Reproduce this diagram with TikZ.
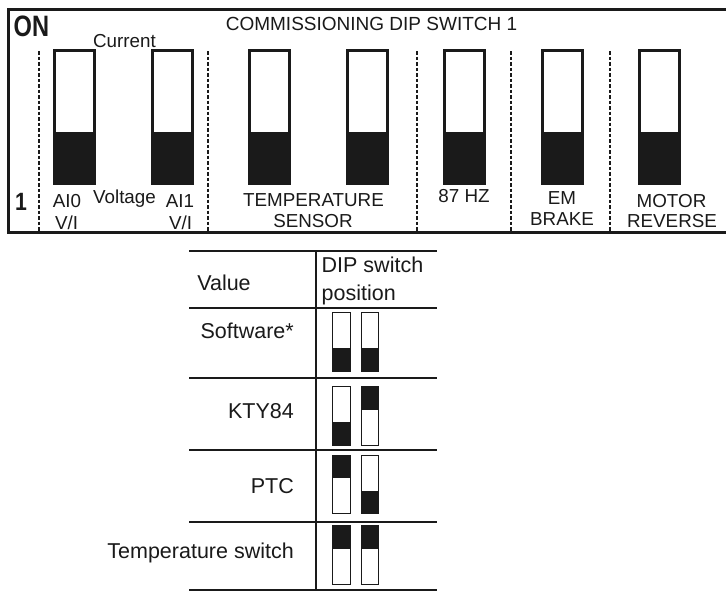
\documentclass[tikz,border=0pt]{standalone}
\usepackage{fontspec}
\setmainfont{Liberation Sans}
\usepackage{graphicx}
\definecolor{ink}{HTML}{1A1A1A}
\begin{document}
\begin{tikzpicture}[x=1pt,y=-1pt,
  lbl/.style={inner sep=0pt, font=\fontsize{18.8}{22}\selectfont, text=ink},
  tlbl/.style={inner sep=0pt, font=\fontsize{21.5}{28}\selectfont, text=ink},
  bigsw/.style={draw=ink, line width=3pt, minimum width=40pt, minimum height=133pt, inner sep=0pt,
    path picture={\fill[ink] ([yshift=51.5pt]path picture bounding box.south west) rectangle (path picture bounding box.south east);}},
  smsw/.style={draw=ink, line width=1.3pt, minimum width=17.5pt, minimum height=58.5pt, inner sep=0pt},
  smlo/.style={smsw, path picture={\fill[ink] ([yshift=23pt]path picture bounding box.south west) rectangle (path picture bounding box.south east);}},
  smhi/.style={smsw, path picture={\fill[ink] (path picture bounding box.north west) rectangle ([yshift=-23pt]path picture bounding box.north east);}},
  sep/.style={draw=ink, line width=1.8pt, dash pattern=on 3.5pt off 2pt},
  frame/.style={draw=ink, line width=3pt},
  tline/.style={draw=ink, line width=1.8pt}
]
\useasboundingbox (0,0) rectangle (726,592);
\fill[white] (0,0) rectangle (726,592);

% outer frame of the DIP switch block
\draw[frame] (735,9.5) -- (8.5,9.5) -- (8.5,232.5) -- (735,232.5);

% dashed separators
\foreach \xx in {39,208,417,511,610}
  \draw[sep] (\xx,51) -- (\xx,231);

% big switches
\node[bigsw] (s1) at (74.5,117) {};
\node[bigsw] (s2) at (172,117) {};
\node[bigsw] (s3) at (269.5,117) {};
\node[bigsw] (s4) at (367,117) {};
\node[bigsw] (s5) at (464.5,117) {};
\node[bigsw] (s6) at (562,117) {};
\node[bigsw] (s7) at (659,117) {};

% headings
\node[inner sep=0pt, anchor=base west, text=ink, font=\bfseries\fontsize{29.5}{30}\selectfont] (on) at (13.5,36) {\scalebox{0.8}[1]{ON}};
\node[inner sep=0pt, anchor=base, text=ink, font=\bfseries\fontsize{25}{26}\selectfont] (one) at (21,210) {\scalebox{0.85}[1]{1}};
\node[lbl, font=\fontsize{19}{22}\selectfont, anchor=base] (title) at (371.5,30) {COMMISSIONING DIP SWITCH 1};

% labels
\node[lbl, anchor=base] (cur) at (124.5,47) {Current};
\node[lbl, anchor=base] (volt) at (124.5,203) {Voltage};
\node[lbl, anchor=base] (ai0) at (67,207) {AI0};
\node[lbl, anchor=base] (vi0) at (66.5,229) {V/I};
\node[lbl, anchor=base] (ai1) at (180,207) {AI1};
\node[lbl, anchor=base] (vi1) at (180.5,229) {V/I};
\node[lbl, anchor=base] (temp) at (313.5,206) {TEMPERATURE};
\node[lbl, anchor=base] (sens) at (313,227) {SENSOR};
\node[lbl, anchor=base] (hz) at (464,202) {87 HZ};
\node[lbl, anchor=base] (em) at (562,204) {EM};
\node[lbl, anchor=base] (brake) at (562,225) {BRAKE};
\node[lbl, anchor=base] (motor) at (671.5,207) {MOTOR};
\node[lbl, anchor=base] (rev) at (672,227) {REVERSE};

% table rules
\foreach \yy in {251,308,378,450,522,590}
  \draw[tline] (189,\yy) -- (437,\yy);
\draw[tline] (316,251) -- (316,590);

% table texts
\node[tlbl, anchor=base] (val) at (224,290) {Value};
\node[tlbl, anchor=base west] (dip1) at (321.5,272) {DIP switch};
\node[tlbl, anchor=base west] (dip2) at (321.5,300) {position};
\node[tlbl, anchor=base east] (soft) at (294,338) {Software*};
\node[tlbl, anchor=base east] (kty) at (294,418) {KTY84};
\node[tlbl, anchor=base east] (ptc) at (294,493) {PTC};
\node[tlbl, anchor=base east] (tsw) at (294,558) {Temperature switch};

% small switches
\node[smlo] (a1) at (341.5,342) {};
\node[smlo] (a2) at (370,342) {};
\node[smlo] (b1) at (341.5,416) {};
\node[smhi] (b2) at (370,416) {};
\node[smhi] (c1) at (341.5,484.5) {};
\node[smlo] (c2) at (370,484.5) {};
\node[smhi] (d1) at (341.5,555) {};
\node[smhi] (d2) at (370,555) {};
\end{tikzpicture}
\end{document}
